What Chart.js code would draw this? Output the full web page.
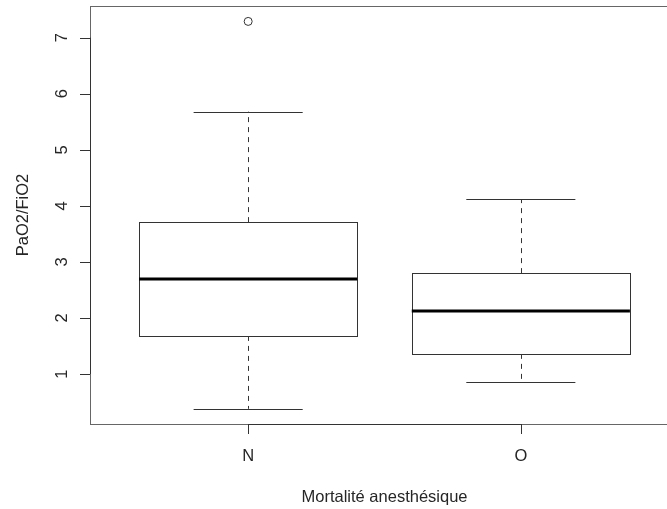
<!DOCTYPE html>
<html>
<head>
<meta charset="utf-8">
<script src="https://cdn.jsdelivr.net/npm/chart.js@4/dist/chart.umd.min.js"></script>
<style>
  html, body { margin: 0; padding: 0; background: #fff; overflow: hidden; }
  #wrap { width: 667px; height: 509px; overflow: hidden; }
  canvas { display: block; }
</style>
</head>
<body>
<div id="wrap"><canvas id="c" width="700" height="509"></canvas></div>
<script>
// Summary statistics of PaO2/FiO2 per group
const groups = ['N', 'O'];
const lowerWhisker = [0.38, 0.86];
const q1 = [1.68, 1.36];
const median = [2.70, 2.12];
const q3 = [3.71, 2.80];
const upperWhisker = [5.68, 4.12];
const outliers = [[7.29], []];
const yTicks = [1, 2, 3, 4, 5, 6, 7];
const xTitle = 'Mortalité anesthésique';
const yTitle = 'PaO2/FiO2';

const FONT = '16.5px "Liberation Sans", Arial, sans-serif';
const INK = '#262626';

const outlierPoints = [];
outliers.forEach((vals, i) => vals.forEach(v => outlierPoints.push({ x: i + 1, y: v })));

const boxplotPlugin = {
  id: 'boxplotR',
  beforeDatasetsDraw(chart) {
    const { ctx, chartArea: a, scales: { x, y } } = chart;
    const snap = v => Math.round(v) + 0.5;
    ctx.save();

    // plot frame
    ctx.strokeStyle = '#666';
    ctx.lineWidth = 1;
    ctx.strokeRect(snap(a.left), snap(a.top), Math.round(a.right - a.left), Math.round(a.bottom - a.top));

    // boxes and whiskers
    groups.forEach((g, i) => {
      const cx = x.getPixelForValue(i + 1);
      const half = x.getPixelForValue(i + 1 + 0.4) - cx;
      const staple = half / 2;
      const pLo = y.getPixelForValue(lowerWhisker[i]);
      const pQ1 = y.getPixelForValue(q1[i]);
      const pMed = y.getPixelForValue(median[i]);
      const pQ3 = y.getPixelForValue(q3[i]);
      const pHi = y.getPixelForValue(upperWhisker[i]);

      ctx.strokeStyle = '#333';
      ctx.lineWidth = 1;
      // dashed whiskers
      ctx.setLineDash([5, 5]);
      ctx.beginPath();
      ctx.moveTo(snap(cx), pQ3); ctx.lineTo(snap(cx), pHi);
      ctx.moveTo(snap(cx), pQ1); ctx.lineTo(snap(cx), pLo);
      ctx.stroke();
      ctx.setLineDash([]);
      // staples
      ctx.beginPath();
      ctx.moveTo(cx - staple, snap(pHi)); ctx.lineTo(cx + staple, snap(pHi));
      ctx.moveTo(cx - staple, snap(pLo)); ctx.lineTo(cx + staple, snap(pLo));
      ctx.stroke();
      // box
      ctx.fillStyle = '#fff';
      ctx.fillRect(cx - half, pQ3, 2 * half, pQ1 - pQ3);
      ctx.strokeRect(snap(cx - half), snap(pQ3), Math.round(2 * half), Math.round(pQ1 - pQ3));
      // median
      ctx.strokeStyle = '#000';
      ctx.lineWidth = 3;
      ctx.beginPath();
      ctx.moveTo(cx - half, Math.round(pMed)); ctx.lineTo(cx + half, Math.round(pMed));
      ctx.stroke();
    });

    // y axis
    ctx.strokeStyle = '#333';
    ctx.lineWidth = 1;
    ctx.beginPath();
    ctx.moveTo(snap(a.left), y.getPixelForValue(yTicks[0]));
    ctx.lineTo(snap(a.left), y.getPixelForValue(yTicks[yTicks.length - 1]));
    yTicks.forEach(t => {
      const py = snap(y.getPixelForValue(t));
      ctx.moveTo(a.left - 10, py); ctx.lineTo(a.left, py);
    });
    ctx.stroke();
    ctx.fillStyle = INK;
    ctx.font = FONT;
    ctx.textAlign = 'center';
    ctx.textBaseline = 'alphabetic';
    yTicks.forEach(t => {
      ctx.save();
      ctx.translate(a.left - 23.3, y.getPixelForValue(t));
      ctx.rotate(-Math.PI / 2);
      ctx.fillText(String(t), 0, 0);
      ctx.restore();
    });

    // x axis
    ctx.beginPath();
    ctx.moveTo(x.getPixelForValue(1), snap(a.bottom));
    ctx.lineTo(x.getPixelForValue(groups.length), snap(a.bottom));
    groups.forEach((g, i) => {
      const px = snap(x.getPixelForValue(i + 1));
      ctx.moveTo(px, a.bottom); ctx.lineTo(px, a.bottom + 10);
    });
    ctx.stroke();
    groups.forEach((g, i) => {
      ctx.fillText(g, x.getPixelForValue(i + 1), a.bottom + 37);
    });

    // axis titles
    ctx.fillText(xTitle, (a.left + a.right) / 2, a.bottom + 77.5);
    ctx.save();
    ctx.translate(27.5, (a.top + a.bottom) / 2);
    ctx.rotate(-Math.PI / 2);
    ctx.fillText(yTitle, 0, 0);
    ctx.restore();

    ctx.restore();
  }
};

new Chart(document.getElementById('c'), {
  type: 'scatter',
  data: {
    datasets: [{
      label: 'outliers',
      data: outlierPoints,
      pointStyle: 'circle',
      pointRadius: 4,
      pointHoverRadius: 4,
      borderColor: '#333',
      borderWidth: 1,
      backgroundColor: 'rgba(0,0,0,0)'
    }]
  },
  options: {
    responsive: false,
    animation: false,
    events: [],
    layout: { padding: { left: 90, top: 6, right: 21, bottom: 85 } },
    plugins: { legend: { display: false }, tooltip: { enabled: false } },
    scales: {
      x: { type: 'linear', min: 0.42, max: 2.58, display: false },
      y: { type: 'linear', min: 0.109, max: 7.565, display: false }
    }
  },
  plugins: [boxplotPlugin]
});
</script>
</body>
</html>
